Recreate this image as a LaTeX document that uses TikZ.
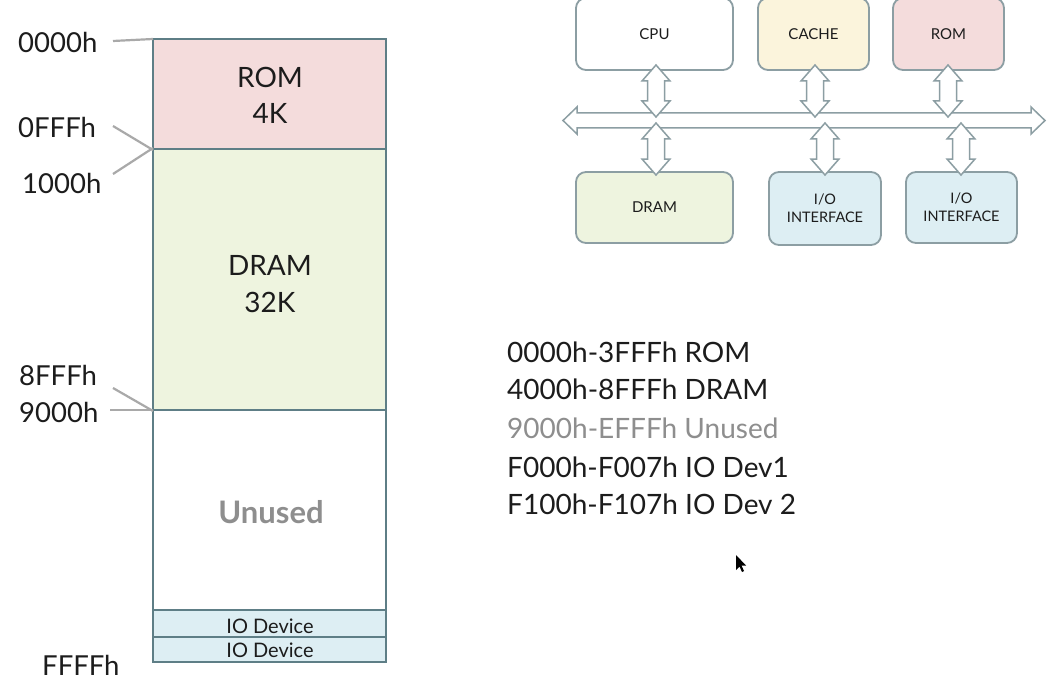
\documentclass[tikz,border=0pt]{standalone}
\usepackage{fontspec}
\setmainfont{Lato}
\definecolor{mapborder}{HTML}{5E7E86}
\definecolor{romfill}{HTML}{F4DCDC}
\definecolor{dramfill}{HTML}{EEF4DF}
\definecolor{iofill}{HTML}{DDEEF3}
\definecolor{boxborder}{HTML}{8C9EA3}
\definecolor{cachefill}{HTML}{FBF4DC}
\definecolor{leadgray}{HTML}{A9A9A9}
\definecolor{unusedgray}{HTML}{8E8E8E}
\definecolor{txt}{HTML}{1C1C1C}
\begin{document}
\begin{tikzpicture}[x=1pt,y=-1pt,
  memblk/.style={draw=mapborder,line width=2pt,anchor=north west,inner sep=0pt,outer sep=0pt,minimum width=233pt},
  addr/.style={anchor=base west,inner sep=0pt,font=\fontsize{27.5}{27.5}\selectfont,text=txt},
  intxt/.style={anchor=base,inner sep=0pt,font=\fontsize{28}{28}\selectfont,text=txt},
  iotxt/.style={anchor=base,inner sep=0pt,font=\fontsize{20}{20}\selectfont,text=txt},
  leader/.style={draw=leadgray,line width=2.2pt},
  listtxt/.style={anchor=base west,inner sep=0pt,font=\fontsize{28}{28}\selectfont,text=txt},
  blk/.style={draw=boxborder,line width=1.8pt,rounded corners=10pt,anchor=north west,inner sep=0pt,outer sep=0pt,align=center,font=\fontsize{15}{18}\selectfont,text=txt},
  dbl/.style={draw=boxborder,line width=1.5pt,fill=white,line join=miter}
]
\useasboundingbox (0,0) rectangle (1060,698);
\fill[white] (0,0) rectangle (1060,698);

% ---------- memory map ----------
\node[memblk,fill=romfill,minimum height=110pt] (rom) at (153,39) {};
\node[memblk,fill=dramfill,minimum height=261pt] (dram) at (153,149) {};
\node[memblk,fill=white,minimum height=200pt] (unused) at (153,410) {};
\node[memblk,fill=iofill,minimum height=27pt] (io1) at (153,610) {};
\node[memblk,fill=iofill,minimum height=25pt] (io2) at (153,637) {};

\node[intxt] (romt) at (270,88) {ROM};
\node[intxt] (romk) at (270,124) {4K};
\node[intxt] (dramt) at (270,275) {DRAM};
\node[intxt] (dramk) at (270,312) {32K};
\node[intxt,text=unusedgray,font=\bfseries\fontsize{31}{31}\selectfont] (unt) at (271,523) {Unused};
\node[iotxt] (io1t) at (270,633) {IO Device};
\node[iotxt] (io2t) at (270,657) {IO Device};

% address labels
\node[addr] (a0) at (18,53) {0000h};
\node[addr] (a1) at (18,138) {0FFFh};
\node[addr] (a2) at (22,193) {1000h};
\node[addr] (a3) at (19,385) {8FFFh};
\node[addr] (a4) at (19,422) {9000h};
\node[addr] (a5) at (42,675) {FFFFh};

\coordinate (c0) at (113,41);
\coordinate (c1) at (113,126);
\coordinate (c2) at (113,174);
\coordinate (c3) at (113,388);
\coordinate (c4) at (110,410);
\draw[leader] (c0) -- (rom.north west);
\draw[leader] (c1) -- ([yshift=-1pt]rom.south west);
\draw[leader] (c2) -- ([yshift=1pt]dram.north west);
\draw[leader] (c3) -- ([yshift=-1pt]dram.south west);
\draw[leader] (c4) -- (unused.north west);

% ---------- address list ----------
\node[listtxt] (l1) at (507,362) {0000h-3FFFh ROM};
\node[listtxt] (l2) at (507,399) {4000h-8FFFh DRAM};
\node[listtxt,text=unusedgray] (l3) at (507,438) {9000h-EFFFh Unused};
\node[listtxt] (l4) at (507,477) {F000h-F007h IO Dev1};
\node[listtxt] (l5) at (507,514) {F100h-F107h IO Dev 2};

% cursor
\fill[black] (736,555) -- (736,570) -- (739.5,566.5) -- (742,572) -- (744,571) -- (741.5,565.5) -- (746,565.5) -- cycle;

% ---------- block diagram ----------
% bus
\draw[dbl] (563,120.5) -- (577,107) -- (577,113) -- (1031,113) -- (1031,107) -- (1045,120.5)
  -- (1031,134) -- (1031,128) -- (577,128) -- (577,134) -- cycle;

\newcommand{\vdbl}[3]{%
  \draw[dbl] (#1,#2) -- (#1+14,#2+16) -- (#1+8.5,#2+16) -- (#1+8.5,#3-16) -- (#1+14,#3-16) -- (#1,#3)
   -- (#1-14,#3-16) -- (#1-8.5,#3-16) -- (#1-8.5,#2+16) -- (#1-14,#2+16) -- cycle;}

\node[blk,fill=white,minimum width=157pt,minimum height=72pt] (cpu) at (576,-2) {CPU};
\node[blk,fill=cachefill,minimum width=111pt,minimum height=72pt] (cache) at (758,-2) {CACHE};
\node[blk,fill=romfill,minimum width=111pt,minimum height=72pt] (romb) at (893,-2) {ROM};
\node[blk,fill=dramfill,minimum width=157pt,minimum height=71pt] (dramb) at (576,172) {DRAM};
\node[blk,fill=iofill,minimum width=112pt,minimum height=73pt,font=\fontsize{14.5}{18}\selectfont] (iob1) at (769,172) {I/O\\INTERFACE};
\node[blk,fill=iofill,minimum width=111pt,minimum height=71pt,font=\fontsize{14.5}{18}\selectfont] (iob2) at (906,172) {I/O\\INTERFACE};

\vdbl{656}{65}{117}
\vdbl{815}{65}{117}
\vdbl{948}{65}{117}
\vdbl{656}{123}{175}
\vdbl{825}{123}{175}
\vdbl{961}{123}{175}
\end{tikzpicture}
\end{document}
